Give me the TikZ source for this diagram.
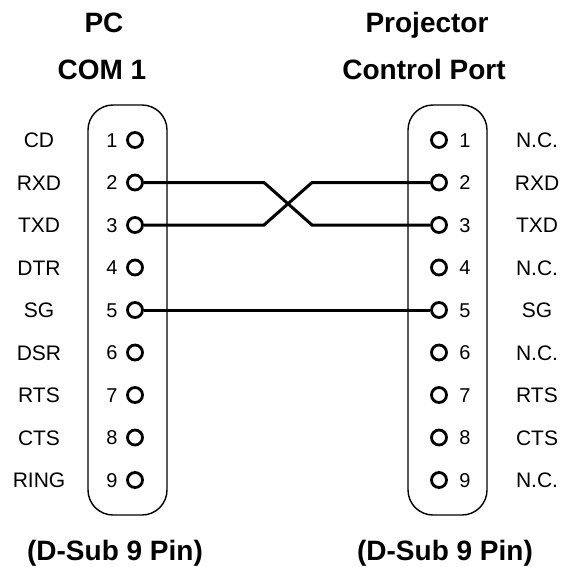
\documentclass[tikz,border=0pt]{standalone}
\usepackage{fontspec}
\setmainfont{Liberation Sans}

\begin{document}
\begin{tikzpicture}[x=1pt,y=-1pt, line width=1.4pt,
  pin/.style={circle,draw,line width=2.8pt,inner sep=0pt,minimum size=15pt},
  wire/.style={line width=3pt},
  title/.style={font=\bfseries\fontsize{28}{30}\selectfont,anchor=base},
  sig/.style={font=\fontsize{21}{24}\selectfont,anchor=base},
  num/.style={font=\fontsize{20}{22}\selectfont,anchor=base}]

\useasboundingbox (0,0) rectangle (561,567);

% connector shells
\draw [rounded corners=25pt] (88,105) rectangle (167,515);
\draw [rounded corners=25pt] (408,105) rectangle (487,515);

% pins
\foreach \n/\a/\b [evaluate=\n as \y using 140+42.5*(\n-1)] in
  {1/CD/N.C., 2/RXD/RXD, 3/TXD/TXD, 4/DTR/N.C., 5/SG/SG,
   6/DSR/N.C., 7/RTS/RTS, 8/CTS/CTS, 9/RING/N.C.} {
  \node[pin] (L\n) at (135,\y) {};
  \node[num] (Ln\n) at (112,\y+7) {\n};
  \node[sig] (Ls\n) at (39,\y+7.5) {\a};
  \node[pin] (R\n) at (439,\y) {};
  \node[num] (Rn\n) at (465,\y+7) {\n};
  \node[sig] (Rs\n) at (537,\y+7.5) {\b};
}

% titles
\node[title] (pc) at (104,33) {PC};
\node[title] (com) at (102,80) {COM 1};
\node[title] (proj) at (427,33) {Projector};
\node[title] (port) at (424,80) {Control Port};
\node[title] (dsubl) at (115,560) {(D-Sub 9 Pin)};
\node[title] (dsubr) at (445,560) {(D-Sub 9 Pin)};

% wiring
\coordinate (kl) at (264,0);
\coordinate (kr) at (312,0);
\draw[wire] (L2) -- (L2 -| kl) -- (R3 -| kr) -- (R3);
\draw[wire] (L3) -- (L3 -| kl) -- (R2 -| kr) -- (R2);
\draw[wire] (L5) -- (R5);

\end{tikzpicture}
\end{document}
